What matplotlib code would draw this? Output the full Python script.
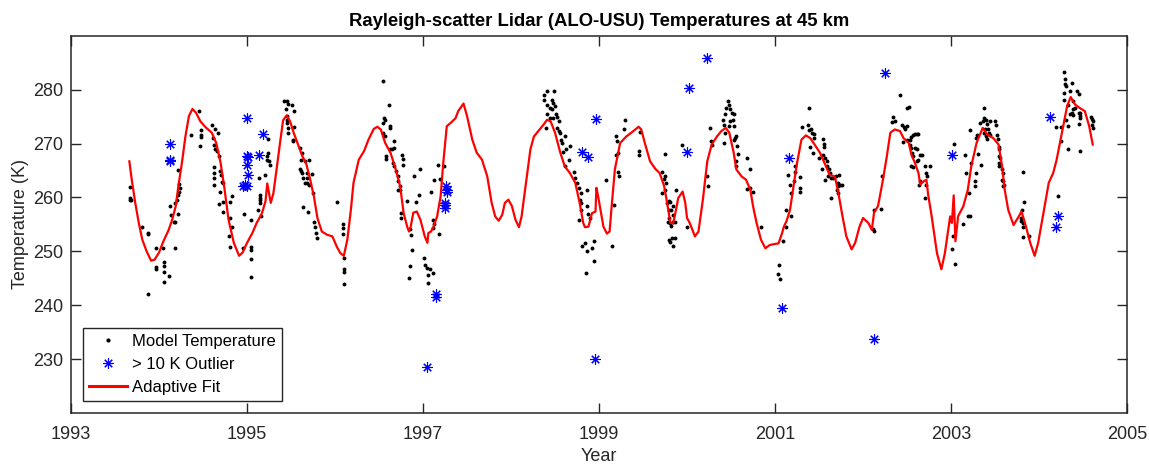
import matplotlib
matplotlib.use("Agg")
import matplotlib.pyplot as plt
from matplotlib.lines import Line2D

plt.rcParams['font.family'] = ['Liberation Sans', 'DejaVu Sans']

# Nightly lidar temperatures at 45 km (decimal year, K)
dot_year = [
    1993.67, 1993.67, 1993.67, 1993.68, 1993.81, 1993.88, 1993.88, 1993.87,
    1993.97, 1993.97, 1993.97, 1994.04, 1994.06, 1994.06, 1994.06, 1994.06,
    1994.11, 1994.18, 1994.12, 1994.14, 1994.17, 1994.18, 1994.22, 1994.18,
    1994.20, 1994.22, 1994.23, 1994.24, 1994.23, 1994.22, 1994.36, 1994.46,
    1994.48, 1994.48, 1994.48, 1994.47, 1994.60, 1994.61, 1994.64, 1994.67,
    1994.63, 1994.64, 1994.66, 1994.68, 1994.63, 1994.63, 1994.63, 1994.63,
    1994.69, 1994.71, 1994.72, 1994.73, 1994.69, 1994.68, 1994.73, 1994.73,
    1994.81, 1994.83, 1994.81, 1994.83, 1994.80, 1994.81, 1994.97, 1994.96,
    1995.04, 1995.04, 1995.05, 1995.05, 1995.05, 1995.13, 1995.15, 1995.15,
    1995.15, 1995.15, 1995.16, 1995.14, 1995.20, 1995.24, 1995.24, 1995.23,
    1995.23, 1995.25, 1995.26, 1995.42, 1995.45, 1995.47, 1995.51, 1995.53,
    1995.44, 1995.46, 1995.46, 1995.46, 1995.47, 1995.53, 1995.47, 1995.52,
    1995.52, 1995.60, 1995.62, 1995.61, 1995.66, 1995.70, 1995.60, 1995.61,
    1995.63, 1995.68, 1995.64, 1995.68, 1995.66, 1995.68, 1995.70, 1995.74,
    1995.75, 1995.64, 1995.69, 1995.76, 1995.77, 1995.78, 1995.79, 1996.02,
    1996.09, 1996.09, 1996.09, 1996.10, 1996.10, 1996.10, 1996.10,
    1996.55, 1996.61, 1996.56, 1996.57, 1996.55, 1996.62, 1996.63, 1996.55,
    1996.57, 1996.67, 1996.65, 1996.63, 1996.67, 1996.58, 1996.58, 1996.76,
    1996.77, 1996.77, 1996.66, 1996.67, 1996.69, 1996.71, 1996.72, 1996.74,
    1996.72, 1996.74, 1996.75, 1996.75, 1996.82, 1996.90, 1996.96, 1996.92,
    1996.95, 1996.85, 1996.86, 1996.87, 1996.85, 1996.84, 1997.01, 1997.02,
    1997.04, 1997.06, 1997.08, 1997.11, 1997.06, 1997.09, 1997.12, 1997.11,
    1997.11, 1997.12, 1997.18, 1997.17, 1997.24, 1997.19,
    1998.38, 1998.41, 1998.49, 1998.37, 1998.46, 1998.48, 1998.50, 1998.44,
    1998.41, 1998.47, 1998.51, 1998.52, 1998.41, 1998.48, 1998.54, 1998.44,
    1998.40, 1998.52, 1998.54, 1998.56, 1998.57, 1998.58, 1998.61, 1998.67,
    1998.63, 1998.59, 1998.66, 1998.61, 1998.71, 1998.73, 1998.75, 1998.77,
    1998.79, 1998.78, 1998.80, 1998.86, 1998.80, 1998.88, 1998.90, 1998.77,
    1998.86, 1998.84, 1998.81, 1998.86, 1998.92, 1998.94, 1998.94, 1998.85,
    1999.08, 1999.15, 1999.17, 1999.19, 1999.20, 1999.21, 1999.19, 1999.22,
    1999.23, 1999.29, 1999.28, 1999.45, 1999.45, 1999.46,
    1999.75, 1999.72, 1999.75, 1999.74, 1999.76, 1999.75, 1999.72, 1999.79,
    1999.81, 1999.77, 1999.80, 1999.84, 1999.82, 1999.84, 1999.79, 1999.78,
    1999.81, 1999.84, 1999.86, 1999.82, 1999.88, 1999.80, 1999.83, 1999.86,
    1999.81, 1999.84, 2000.00, 1999.94, 2000.26, 2000.23, 2000.24, 2000.27,
    2000.28, 2000.47, 2000.48, 2000.44, 2000.43, 2000.49, 2000.51, 2000.53,
    2000.52, 2000.41, 2000.49, 2000.42, 2000.48, 2000.53, 2000.43, 2000.42,
    2000.55, 2000.56, 2000.53, 2000.57, 2000.56, 2000.56, 2000.58, 2000.68,
    2000.72, 2000.68, 2000.72, 2000.75, 2000.84,
    2001.04, 2001.03, 2001.06, 2001.09, 2001.13, 2001.13, 2001.18, 2001.15,
    2001.17, 2001.18, 2001.21, 2001.23, 2001.28, 2001.28, 2001.28, 2001.23,
    2001.31, 2001.39, 2001.38, 2001.41, 2001.39, 2001.42, 2001.44, 2001.44,
    2001.43, 2001.40, 2001.55, 2001.56, 2001.56, 2001.54, 2001.57, 2001.59,
    2001.59, 2001.61, 2001.62, 2001.60, 2001.64, 2001.66, 2001.69, 2001.71,
    2001.72, 2001.74, 2001.73, 2001.76, 2001.70, 2001.72, 2001.64, 2001.50,
    2001.53, 2001.57,
    2002.12, 2002.20, 2002.12, 2002.11, 2002.21, 2002.34, 2002.36, 2002.33,
    2002.42, 2002.50, 2002.52, 2002.44, 2002.46, 2002.48, 2002.50, 2002.45,
    2002.50, 2002.53, 2002.55, 2002.57, 2002.59, 2002.61, 2002.63, 2002.53,
    2002.55, 2002.59, 2002.61, 2002.56, 2002.57, 2002.65, 2002.67, 2002.55,
    2002.63, 2002.61, 2002.57, 2002.70, 2002.76, 2002.72, 2002.73, 2002.64,
    2002.72, 2002.70, 2002.65,
    2003.03, 2003.02, 2003.01, 2003.05, 2003.16, 2003.17, 2003.14, 2003.21,
    2003.19, 2003.20, 2003.23, 2003.22, 2003.28, 2003.30, 2003.28, 2003.27,
    2003.27, 2003.31, 2003.33, 2003.34, 2003.38, 2003.37, 2003.36, 2003.40,
    2003.41, 2003.44, 2003.42, 2003.39, 2003.43, 2003.37, 2003.40, 2003.41,
    2003.44, 2003.50, 2003.51, 2003.52, 2003.53, 2003.54, 2003.55, 2003.54,
    2003.56, 2003.54, 2003.55, 2003.56, 2003.58, 2003.59, 2003.58, 2003.59,
    2003.60, 2003.59, 2003.82, 2003.83, 2003.80, 2003.82, 2003.80, 2003.82,
    2003.82, 2003.89, 2003.81,
    2004.21, 2004.19, 2004.25, 2004.25, 2004.33, 2004.33, 2004.28, 2004.30,
    2004.30, 2004.31, 2004.37, 2004.35, 2004.28, 2004.28, 2004.33, 2004.39,
    2004.41, 2004.37, 2004.39, 2004.43, 2004.45, 2004.45, 2004.46, 2004.47,
    2004.47, 2004.45, 2004.46, 2004.59, 2004.60, 2004.61, 2004.61, 2004.60,
    2004.31, 2004.35, 2004.39,
]
dot_temp = [
    261.9, 259.9, 259.6, 259.5, 254.6, 253.4, 253.2, 242.2,
    250.6, 247.2, 246.7, 250.6, 248.1, 247.3, 246.2, 244.4,
    245.5, 250.7, 258.4, 256.8, 255.4, 255.4, 257.0, 259.0,
    259.6, 260.4, 261.0, 261.8, 262.5, 265.0, 271.6, 276.0,
    272.5, 271.5, 271.2, 269.5, 273.5, 271.0, 272.6, 272.0,
    269.8, 268.9, 268.6, 267.6, 265.7, 264.6, 263.7, 262.4,
    264.9, 264.2, 262.9, 262.7, 261.0, 258.8, 259.1, 257.4,
    259.2, 260.3, 256.2, 254.6, 252.8, 250.9, 257.0, 250.6,
    250.9, 250.3, 248.6, 245.2, 255.8, 257.7, 259.9, 259.6,
    260.4, 259.0, 256.5, 263.7, 264.1, 270.9, 268.2, 267.6,
    267.0, 266.7, 266.0, 277.8, 277.8, 277.4, 277.1, 276.0,
    276.3, 275.1, 274.4, 273.8, 272.9, 273.0, 272.0, 270.7,
    270.4, 269.2, 268.2, 267.0, 266.7, 267.0, 265.2, 264.9,
    264.5, 264.5, 263.7, 263.7, 262.7, 262.6, 262.4, 264.3,
    260.9, 258.2, 257.4, 255.4, 254.6, 253.4, 252.5, 259.1,
    255.0, 254.3, 253.2, 248.8, 246.7, 246.2, 243.9,
    281.5, 277.2, 274.7, 274.4, 273.8, 273.3, 272.9, 272.0,
    271.3, 270.4, 269.0, 268.9, 269.2, 267.6, 267.1, 267.8,
    267.1, 266.1, 266.4, 265.8, 264.9, 263.9, 263.0, 262.1,
    261.3, 261.4, 257.2, 256.2, 259.3, 263.9, 265.2, 259.2,
    260.4, 254.1, 253.1, 250.3, 247.3, 245.0, 248.8, 247.5,
    246.9, 245.7, 246.7, 246.1, 244.1, 261.0, 263.3, 255.9,
    254.3, 255.1, 253.3, 266.0, 265.8, 263.4,
    278.9, 279.7, 279.8, 278.0, 278.1, 277.5, 276.9, 276.6,
    277.2, 276.3, 275.5, 274.9, 275.5, 274.7, 274.1, 274.7,
    272.9, 272.8, 272.3, 272.0, 270.7, 270.1, 271.3, 269.5,
    268.9, 268.4, 267.0, 265.8, 264.8, 263.6, 262.7, 261.8,
    260.8, 259.6, 259.0, 258.5, 257.7, 257.0, 256.2, 255.8,
    261.3, 251.6, 251.1, 250.0, 250.6, 252.0, 248.2, 246.0,
    263.2, 251.1, 258.7, 271.3, 270.4, 268.2, 267.8, 264.8,
    263.9, 274.3, 272.6, 268.6, 267.8, 272.1,
    268.1, 264.7, 264.0, 263.4, 262.6, 261.4, 260.9, 259.3,
    259.1, 259.0, 257.7, 258.4, 257.6, 256.8, 256.2, 255.4,
    255.3, 255.4, 255.4, 254.7, 261.4, 252.1, 252.5, 252.5,
    251.8, 251.1, 254.5, 269.8, 272.8, 263.9, 262.1, 270.4,
    269.8, 277.8, 277.2, 276.6, 275.4, 276.3, 275.7, 275.4,
    274.4, 274.4, 274.1, 273.5, 273.2, 273.2, 272.0, 270.1,
    271.0, 271.3, 270.7, 269.6, 266.7, 265.8, 268.1, 267.3,
    265.2, 261.6, 261.8, 261.0, 254.6,
    247.5, 245.8, 244.9, 252.0, 254.5, 257.7, 256.6, 264.2,
    262.4, 260.8, 263.0, 264.8, 263.8, 261.8, 261.0, 265.8,
    273.1, 276.5, 273.5, 272.6, 272.5, 272.0, 271.7, 271.0,
    268.2, 269.4, 270.8, 270.0, 269.4, 267.9, 267.3, 266.7,
    265.8, 265.2, 264.5, 263.9, 263.6, 263.6, 263.9, 262.6,
    262.1, 262.4, 264.2, 262.4, 261.4, 260.9, 259.9, 267.3,
    265.2, 263.3,
    257.7, 257.9, 253.8, 254.1, 263.9, 274.9, 274.1, 273.9,
    278.9, 276.6, 276.7, 273.5, 273.0, 272.7, 273.2, 270.2,
    270.7, 270.7, 271.2, 271.5, 271.7, 271.8, 271.8, 269.8,
    269.2, 269.2, 268.9, 268.2, 267.6, 267.8, 267.9, 265.8,
    266.9, 266.7, 265.6, 265.8, 265.8, 264.5, 264.0, 262.4,
    262.4, 259.9, 263.0,
    270.0, 252.9, 250.5, 247.7, 267.8, 264.5, 255.1, 256.6,
    256.5, 260.8, 266.4, 272.5, 271.0, 271.5, 264.5, 263.0,
    262.1, 268.1, 273.8, 266.0, 276.6, 274.7, 274.1, 274.4,
    273.7, 274.1, 272.7, 272.6, 272.0, 272.0, 271.3, 270.8,
    271.5, 274.1, 273.5, 271.5, 270.9, 269.4, 268.9, 267.6,
    267.3, 266.4, 265.8, 266.1, 265.2, 264.5, 263.3, 263.0,
    262.4, 262.1, 264.8, 259.2, 256.2, 255.3, 255.6, 254.6,
    252.7, 252.8, 257.7,
    260.3, 273.0, 273.0, 270.4, 269.0, 273.2, 283.2, 282.0,
    281.1, 280.6, 281.2, 279.8, 279.4, 278.1, 277.2, 277.8,
    276.6, 275.7, 275.2, 279.7, 279.1, 275.7, 275.1, 274.7,
    275.7, 273.7, 268.6, 274.9, 274.6, 274.1, 272.9, 273.5,
    274.4, 275.4, 276.4,
]

# Nights departing more than 10 K from the fit
out_year = [
    1994.13, 1994.13, 1994.12, 1995.00, 1995.00, 1995.01, 1995.00, 1995.01,
    1994.95, 1995.00, 1994.98, 1995.14, 1995.18, 1997.05, 1997.15, 1997.15,
    1997.26, 1997.27, 1997.27, 1997.25, 1997.25, 1997.25, 1998.81, 1998.87,
    1998.97, 1998.95, 2000.00, 2000.02, 2000.23, 2001.08, 2001.16, 2002.12,
    2002.25, 2003.01, 2004.12, 2004.21, 2004.19,
]
out_temp = [
    269.9, 266.8, 266.9, 274.7, 267.6, 267.5, 266.1, 264.2,
    262.1, 262.2, 262.3, 267.8, 271.8, 228.6, 242.2, 241.5,
    262.1, 261.4, 261.0, 259.0, 258.0, 258.7, 268.4, 267.5,
    274.6, 230.1, 268.4, 280.3, 285.9, 239.5, 267.4, 233.8,
    283.0, 267.8, 274.9, 256.6, 254.5,
]

# Adaptive fit curve
fit_year = [
    1993.663, 1993.69, 1993.73, 1993.77, 1993.81, 1993.86, 1993.91, 1993.95,
    1994.00, 1994.05, 1994.11, 1994.15, 1994.19, 1994.22, 1994.26, 1994.30,
    1994.34, 1994.38, 1994.42, 1994.47, 1994.53, 1994.60, 1994.65, 1994.70,
    1994.74, 1994.79, 1994.85, 1994.91, 1994.95, 1995.00, 1995.06, 1995.11,
    1995.17, 1995.21, 1995.23, 1995.25, 1995.27, 1995.30, 1995.34, 1995.38,
    1995.41, 1995.45, 1995.49, 1995.53, 1995.58, 1995.63, 1995.67, 1995.71,
    1995.76, 1995.80, 1995.85, 1995.91, 1995.97, 1996.02, 1996.06, 1996.10,
    1996.14, 1996.18, 1996.21, 1996.27, 1996.33, 1996.38, 1996.44, 1996.48,
    1996.52, 1996.57, 1996.63, 1996.69, 1996.74, 1996.78, 1996.82, 1996.84,
    1996.86, 1996.89, 1996.93, 1996.97, 1997.02, 1997.05, 1997.06, 1997.09,
    1997.12, 1997.16, 1997.20, 1997.23, 1997.27, 1997.32, 1997.37, 1997.40,
    1997.46, 1997.50, 1997.56, 1997.61, 1997.67, 1997.73, 1997.78, 1997.82,
    1997.86, 1997.90, 1997.93, 1997.97, 1998.01, 1998.05, 1998.09, 1998.12,
    1998.17, 1998.22, 1998.26, 1998.31, 1998.37, 1998.41, 1998.45, 1998.50,
    1998.56, 1998.61, 1998.67, 1998.73, 1998.78, 1998.82, 1998.84, 1998.88,
    1998.92, 1998.96, 1998.97, 1998.99, 1999.02, 1999.05, 1999.09, 1999.12,
    1999.14, 1999.18, 1999.24, 1999.31, 1999.39, 1999.45, 1999.48, 1999.52,
    1999.58, 1999.64, 1999.69, 1999.74, 1999.78, 1999.81, 1999.84, 1999.86,
    1999.90, 1999.95, 1999.98, 2000.00, 2000.03, 2000.09, 2000.13, 2000.18,
    2000.23, 2000.28, 2000.34, 2000.39, 2000.44, 2000.48, 2000.53, 2000.56,
    2000.62, 2000.67, 2000.72, 2000.75, 2000.79, 2000.84, 2000.89, 2000.94,
    2001.00, 2001.04, 2001.08, 2001.10, 2001.13, 2001.17, 2001.21, 2001.25,
    2001.30, 2001.35, 2001.40, 2001.45, 2001.51, 2001.57, 2001.62, 2001.68,
    2001.72, 2001.76, 2001.81, 2001.87, 2001.91, 2001.96, 2002.00, 2002.06,
    2002.10, 2002.125, 2002.17, 2002.22, 2002.27, 2002.31, 2002.36, 2002.42,
    2002.46, 2002.52, 2002.55, 2002.59, 2002.63, 2002.65, 2002.69, 2002.72,
    2002.74, 2002.78, 2002.84, 2002.89, 2002.93, 2002.99, 2003.01, 2003.03,
    2003.05, 2003.08, 2003.14, 2003.19, 2003.23, 2003.29, 2003.36, 2003.41,
    2003.48, 2003.54, 2003.58, 2003.61, 2003.65, 2003.71, 2003.77, 2003.80,
    2003.84, 2003.90, 2003.95, 2003.99, 2004.05, 2004.11, 2004.16, 2004.20,
    2004.26, 2004.32, 2004.36, 2004.41, 2004.46, 2004.52, 2004.57, 2004.61,
]
fit_temp = [
    266.7, 263.3, 259.0, 255.3, 252.2, 250.0, 248.3, 248.5,
    249.8, 251.9, 254.0, 255.9, 258.4, 262.1, 266.4, 271.3,
    275.1, 276.4, 275.7, 274.1, 273.0, 272.0, 270.1, 266.4,
    262.1, 255.9, 251.6, 249.2, 249.8, 251.6, 253.4, 255.3,
    257.1, 259.3, 262.6, 260.8, 259.0, 260.8, 265.8, 270.7,
    274.3, 275.2, 274.1, 272.0, 269.8, 267.6, 266.4, 263.9,
    260.2, 256.2, 253.7, 253.1, 252.8, 250.9, 249.7, 249.2,
    252.2, 257.7, 262.7, 267.0, 268.6, 270.7, 272.7, 273.1,
    272.6, 270.1, 268.3, 265.2, 262.1, 257.1, 254.6, 253.7,
    254.6, 257.2, 257.4, 255.9, 252.8, 251.6, 253.4, 253.7,
    254.6, 256.5, 260.2, 266.4, 273.2, 273.9, 274.7, 276.0,
    277.4, 275.1, 270.7, 268.3, 267.0, 263.9, 259.0, 256.5,
    255.7, 256.8, 259.0, 259.6, 258.4, 255.9, 254.5, 256.5,
    262.7, 268.9, 271.3, 272.3, 273.5, 274.4, 274.1, 272.0,
    268.3, 265.8, 264.5, 262.7, 259.0, 255.3, 254.5, 254.6,
    257.1, 257.4, 261.8, 260.2, 257.4, 254.6, 253.3, 253.7,
    257.7, 265.2, 270.1, 271.3, 272.3, 273.1, 272.6, 270.1,
    266.7, 265.3, 264.5, 262.1, 258.4, 255.3, 255.2, 256.5,
    259.9, 261.1, 259.0, 256.2, 255.3, 252.8, 253.7, 259.6,
    266.7, 269.8, 271.3, 272.3, 272.9, 272.0, 268.3, 265.2,
    263.9, 263.3, 261.4, 258.4, 255.3, 252.2, 250.6, 251.2,
    251.4, 251.5, 253.4, 254.6, 255.6, 257.7, 262.1, 266.4,
    270.7, 271.5, 271.0, 269.8, 268.3, 266.1, 264.2, 263.9,
    260.8, 257.1, 252.8, 250.4, 251.6, 254.6, 256.2, 255.3,
    254.0, 257.2, 258.4, 262.7, 267.6, 272.0, 272.6, 272.3,
    271.0, 270.1, 267.9, 266.4, 264.5, 262.4, 263.0, 263.3,
    260.5, 256.5, 249.7, 246.7, 249.7, 256.5, 255.3, 260.4,
    251.9, 256.5, 258.4, 261.4, 265.8, 270.1, 272.9, 271.7,
    271.0, 269.8, 265.8, 261.4, 257.7, 254.9, 256.5, 257.4,
    255.3, 251.6, 249.2, 251.6, 257.1, 262.7, 264.5, 267.0,
    272.0, 277.0, 278.6, 277.2, 276.6, 276.0, 273.2, 269.8,
]

x_ticks = [1993, 1995, 1997, 1999, 2001, 2003, 2005]
y_ticks = [230, 240, 250, 260, 270, 280]

axis_color = '#262626'
star = (8, 2, 0)

fig = plt.figure(figsize=(11.49, 4.66), dpi=100)
ax = fig.add_axes([0.0618, 0.1127, 0.9191, 0.8111])

ax.plot(dot_year, dot_temp, linestyle='none', marker='o', markersize=2.8,
        color='black', markeredgewidth=0, label='Model Temperature')
ax.plot(out_year, out_temp, linestyle='none', marker=star, markersize=7.5,
        color=(0, 0, 1), markeredgewidth=0.8, label='> 10 K Outlier')
ax.plot(fit_year, fit_temp, color=(1, 0, 0), linewidth=1.6, label='Adaptive Fit')

ax.set_xlim(1993, 2005)
ax.set_ylim(220, 290)
ax.set_xticks(x_ticks)
ax.set_xticklabels([str(t) for t in x_ticks])
ax.set_yticks(y_ticks)

ax.tick_params(axis='both', which='both', direction='in', length=7.5, width=1.0,
               top=True, right=True, labelsize=13, colors=axis_color)
ax.tick_params(axis='x', pad=9)
ax.tick_params(axis='y', pad=5.5)
for sp in ax.spines.values():
    sp.set_color(axis_color)
    sp.set_linewidth(1.1)

ax.set_xlabel('Year', fontsize=13, color=axis_color, labelpad=3.5)
ax.set_ylabel('Temperature (K)', fontsize=13, color=axis_color, labelpad=3)
ax.set_title('Rayleigh-scatter Lidar (ALO-USU) Temperatures at 45 km',
             fontsize=13.3, fontweight='bold', color='black', pad=7)

leg_handles = [
    Line2D([], [], linestyle='none', marker='o', markersize=3, color='black',
           markeredgewidth=0),
    Line2D([], [], linestyle='none', marker=star, markersize=7.5,
           color=(0, 0, 1), markeredgewidth=0.8),
    Line2D([], [], color=(1, 0, 0), linewidth=2.2),
]
leg = ax.legend(leg_handles, ['Model Temperature', '> 10 K Outlier', 'Adaptive Fit'],
                loc='lower left', bbox_to_anchor=(0.0114, 0.033), borderaxespad=0,
                fontsize=12, frameon=True, fancybox=False, framealpha=1,
                edgecolor=axis_color, handlelength=2.3, handletextpad=0.3,
                labelspacing=0.5, borderpad=0.35)
leg.get_frame().set_linewidth(1.0)

fig.savefig('out.png', dpi=100)
